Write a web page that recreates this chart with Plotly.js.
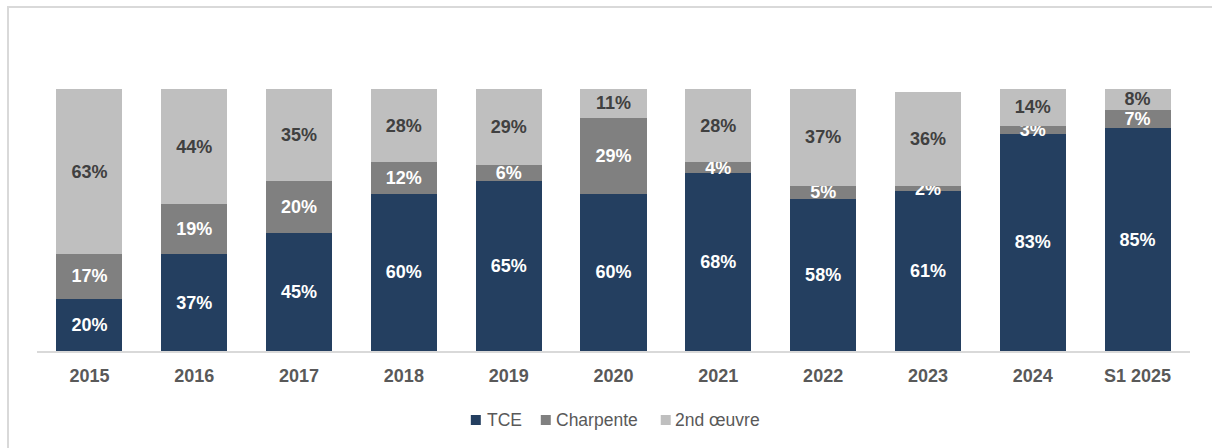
<!DOCTYPE html>
<html>
<head>
<meta charset="utf-8">
<script src="https://cdn.plot.ly/plotly-3.0.1.min.js"></script>
<style>
html,body{margin:0;padding:0;background:#fff;}
#frame{position:absolute;left:7px;top:6px;width:1220px;height:460px;border-left:2px solid #d9d9d9;border-top:2px solid #d9d9d9;}
#chart{position:absolute;left:0;top:0;width:1212px;height:448px;}
</style>
</head>
<body>
<div id="frame"></div>
<div id="chart"></div>
<script>
const categories = ["2015","2016","2017","2018","2019","2020","2021","2022","2023","2024","S1 2025"];
const tce = [20,37,45,60,65,60,68,58,61,83,85];
const charpente = [17,19,20,12,6,29,4,5,2,3,7];
const secondOeuvre = [63,44,35,28,29,11,28,37,36,14,8];
const seriesNames = ["TCE","Charpente","2nd œuvre"];

const fontFam = "Arial, 'Liberation Sans', sans-serif";
const colors = ['#243f60','#808080','#bfbfbf'];
const txtColors = ['#ffffff','#ffffff','#404040'];

function series(i, vals){
  return {
    type:'bar', name:seriesNames[i], x:categories, y:vals,
    marker:{color:colors[i]},
    text: vals.map(v => v + '%'),
    textposition:'inside', insidetextanchor:'middle',
    textangle:0, constraintext:'none',
    textfont:{family:fontFam, size:18, color:txtColors[i], weight:'bold'},
    hoverinfo:'none', showlegend:false
  };
}
const data = [series(0,tce), series(1,charpente), series(2,secondOeuvre)];

// manual legend (pixel positions converted to paper coords)
const L = 37, PW = 1153.5, B = 351, PH = 262;
const px = p => (p - L) / PW;
const py = p => (B - p) / PH;
const legSquareX = [471, 541, 661];
const legTextX = [485, 554, 673];
const legY = 420;
const shapes = [], annotations = [];
seriesNames.forEach((n, i) => {
  shapes.push({type:'rect', xref:'paper', yref:'paper',
    x0:px(legSquareX[i]), x1:px(legSquareX[i]+10), y0:py(legY+5), y1:py(legY-5),
    fillcolor:colors[i], line:{width:0}});
  annotations.push({xref:'paper', yref:'paper', x:px(legTextX[i]), y:py(legY),
    xanchor:'left', yanchor:'middle', text:n, showarrow:false,
    font:{family:fontFam, size:17.5, color:'#595959'}});
});

const layout = {
  width:1212, height:448,
  margin:{l:37, r:21.5, t:89, b:97},
  paper_bgcolor:'rgba(0,0,0,0)', plot_bgcolor:'rgba(0,0,0,0)',
  barmode:'stack', bargap:0.37,
  uniformtext:{mode:'show', minsize:18},
  font:{family:fontFam, color:'#595959'},
  xaxis:{
    type:'category', showline:true, linecolor:'#d9d9d9', linewidth:2,
    ticks:'outside', ticklen:7, tickcolor:'rgba(0,0,0,0)',
    tickfont:{family:fontFam, size:18, color:'#595959', weight:'bold'},
    showgrid:false, zeroline:false, fixedrange:true
  },
  yaxis:{range:[0,100], visible:false, showgrid:false, zeroline:false, fixedrange:true},
  showlegend:false,
  shapes:shapes, annotations:annotations
};
Plotly.newPlot('chart', data, layout, {displayModeBar:false, staticPlot:true});
</script>
</body>
</html>
